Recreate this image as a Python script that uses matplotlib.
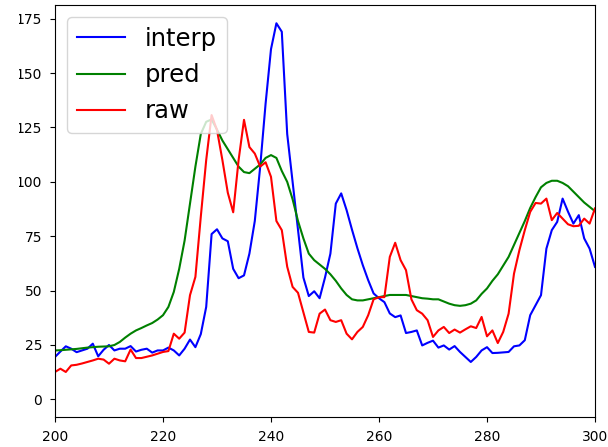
import numpy as np
import matplotlib
matplotlib.use("Agg")
import matplotlib.pyplot as plt
from matplotlib.patches import Rectangle

x = list(range(200, 301))

interp = [19.5, 22, 24.4, 23.3, 21.7, 22.5, 23.3, 25.6, 19.8, 22.8,
          25, 22.5, 23.3, 23.3, 24.5, 22, 22.8, 23.3, 21.5, 22.5,
          22.5, 23.8, 22.5, 20.2, 23.3, 27.5, 24, 30, 42.5, 76,
          78.2, 74, 72.7, 60, 55.7, 57, 67, 82, 107, 136,
          161, 172.9, 169, 122, 100, 78, 56, 47.5, 49.7, 46.5,
          56, 67, 90, 94.7, 87, 78, 69.5, 61.7, 54.8, 48.7,
          46.5, 44.7, 39.5, 37.8, 38.6, 30.5, 31, 31.7, 24.8, 26,
          27, 23.8, 24.8, 22.9, 24.5, 21.8, 19.5, 17.2, 19.5, 22.5,
          24, 21.3, 21.4, 21.6, 21.8, 24.4, 24.8, 27.2, 38.7, 43.3,
          47.9, 69.3, 77.8, 81.6, 92.3, 86.3, 80.8, 84.7, 74, 69.3,
          60.9]

pred = [22.5, 22.6, 22.8, 23, 23.2, 23.5, 23.8, 24, 24.2, 24.3,
        24.4, 25, 26.4, 28.4, 30.2, 31.7, 32.8, 34, 35.1, 36.7,
        38.7, 42.5, 49.4, 60, 73, 90, 107, 122, 127.6, 128.7,
        124, 119, 115, 111, 107, 104.5, 104, 106, 108, 111,
        112.3, 111, 105, 100, 92, 82, 74, 67, 64, 62,
        60, 57.5, 54.5, 51, 48, 46, 45.5, 45.5, 46, 46.5,
        47, 47.5, 48, 48, 48, 48, 47.5, 47, 46.5, 46.3,
        46, 46, 45, 44, 43.3, 43, 43.3, 44, 45.5, 48.5,
        51, 54.5, 57.5, 61.5, 65.5, 71, 76.5, 82, 88, 93,
        97.5, 99.5, 100.5, 100.5, 99.5, 98, 95.5, 93, 90.5, 88.5,
        86.5]

raw = [12.6, 14.1, 12.6, 15.6, 15.9, 16.5, 17.2, 17.9, 18.7, 18.3,
       16.4, 18.7, 17.9, 17.5, 22.9, 19, 19, 19.6, 20.2, 21,
       21.8, 22.2, 30.2, 27.9, 30.7, 47.9, 56.3, 84, 110, 130.7,
       123.8, 110, 95, 86, 110, 128.5, 116, 113, 107, 109,
       102.3, 82, 77.8, 61, 51.7, 49, 40, 31, 30.7, 39.4,
       41.3, 36.4, 35.6, 36.4, 30.2, 27.6, 31, 33.3, 38.7, 46,
       47, 47, 65.5, 72, 64, 59.4, 46, 41, 39.4, 36.4,
       28.7, 31.7, 33.3, 30.5, 32.1, 30.7, 32.2, 33.6, 32.8, 37.9,
       29, 31.7, 25.9, 31, 39.4, 57.8, 68.6, 77.8, 86.2, 90.3,
       90, 92.3, 82.4, 85.7, 83.1, 80.5, 79.6, 79.8, 83.1, 80.8,
       87.8]

xticks = [200, 220, 240, 260, 280, 300]
yticks = [0, 25, 50, 75, 100, 125, 150, 175]

fig = plt.figure(figsize=(6.08, 4.47), dpi=100)
ax = fig.add_axes([55/608, 30/447, 540/608, 412/447])
ax.plot(x, interp, color="blue", label="interp")
ax.plot(x, pred, color="green", label="pred")
ax.plot(x, raw, color="red", label="raw")
ax.set_xlim(200, 300)
ax.set_ylim(-8.1, 181.3)
ax.set_xticks(xticks)
ax.set_yticks(yticks)
ax.tick_params(axis="both", pad=5.7)
ax.legend(loc="upper left", fontsize=17.5)
# the reference image is cropped on the left edge
fig.patches.append(Rectangle((0, 0), 18.5/608, 1, transform=fig.transFigure,
                             facecolor="white", edgecolor="none", zorder=10))
fig.savefig("out.png", dpi=100)
